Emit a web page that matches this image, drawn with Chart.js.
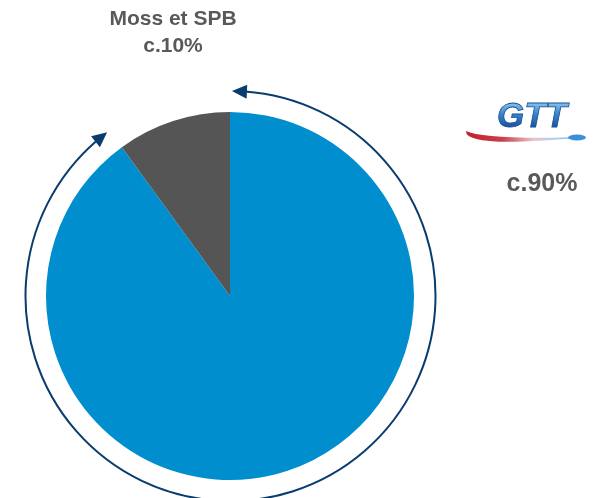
<!DOCTYPE html>
<html>
<head>
<meta charset="utf-8">
<script src="https://cdn.jsdelivr.net/npm/chart.js@4/dist/chart.umd.min.js"></script>
<style>
  html, body { margin: 0; padding: 0; background: #ffffff; }
  #wrap { width: 596px; height: 498px; }
</style>
</head>
<body>
<div id="wrap"><canvas id="c" width="596" height="498"></canvas></div>
<script>
// ---- data ----
const categories = ['GTT', 'Moss et SPB'];
const shareValues = [90, 10];
const shareLabels = ['c.90%', 'c.10%'];
const sliceColors = ['#008ECF', '#555555'];

const textGrey = '#595959';
const arrowColor = '#0B3C6E';

const overlay = {
  id: 'overlay',
  afterDraw(chart) {
    const ctx = chart.ctx;
    const meta = chart.getDatasetMeta(0);
    const big = meta.data[0];
    const cx = big.x + 0.5, cy = big.y;
    const R = big.outerRadius + 21;
    const deg = Math.PI / 180;
    const a0 = big.startAngle + 0.4 * deg;   // top tip
    const a1 = big.endAngle - 1.0 * deg;     // left tip
    const L = 15, W = 7;
    ctx.save();
    ctx.strokeStyle = arrowColor;
    ctx.fillStyle = arrowColor;
    ctx.lineWidth = 2;
    ctx.beginPath();
    ctx.arc(cx, cy, R, a0 + (L - 2) / R, a1 - (L - 2) / R, false);
    ctx.stroke();
    function head(a, dirSign) {
      const tx = cx + R * Math.cos(a), ty = cy + R * Math.sin(a);
      const ab = a - dirSign * L / R;
      const bx = cx + R * Math.cos(ab), by = cy + R * Math.sin(ab);
      let dx = tx - bx, dy = ty - by;
      const n = Math.hypot(dx, dy); dx /= n; dy /= n;
      const px = -dy, py = dx;
      ctx.beginPath();
      ctx.moveTo(tx, ty);
      ctx.lineTo(bx + px * W, by + py * W);
      ctx.lineTo(bx - px * W, by - py * W);
      ctx.closePath();
      ctx.fill();
    }
    head(a0, -1);
    head(a1, 1);

    // labels
    ctx.fillStyle = textGrey;
    ctx.textAlign = 'center';
    ctx.textBaseline = 'alphabetic';
    ctx.font = 'bold 21px "Liberation Sans", Arial, sans-serif';
    ctx.fillText(categories[1], 173, 25);
    ctx.fillText(shareLabels[1], 173, 52);
    ctx.font = 'bold 25px "Liberation Sans", Arial, sans-serif';
    ctx.fillText(shareLabels[0], 542, 191);

    // GTT logo: swoosh
    const sg = ctx.createLinearGradient(466, 0, 588, 0);
    sg.addColorStop(0, '#C0202C');
    sg.addColorStop(0.3, '#C8404A');
    sg.addColorStop(0.55, '#E9C4C8');
    sg.addColorStop(0.75, '#A9D2F0');
    sg.addColorStop(1, '#2A7DCC');
    ctx.fillStyle = sg;
    ctx.beginPath();
    ctx.moveTo(466, 131);
    ctx.quadraticCurveTo(465, 149, 586, 137);
    ctx.quadraticCurveTo(484, 140, 466, 131);
    ctx.closePath();
    ctx.fill();
    ctx.fillStyle = '#3B8FDA';
    ctx.beginPath();
    ctx.ellipse(577, 137.5, 9, 3, 0, 0, Math.PI * 2);
    ctx.fill();

    // GTT text
    const tg = ctx.createLinearGradient(0, 102, 0, 128);
    tg.addColorStop(0, '#8CC8F0');
    tg.addColorStop(0.45, '#3A86D0');
    tg.addColorStop(1, '#15509A');
    ctx.font = 'italic bold 35px "Liberation Sans", Arial, sans-serif';
    ctx.fillStyle = tg;
    ctx.fillText(categories[0], 532, 127);
    ctx.lineWidth = 0.8;
    ctx.strokeStyle = '#1A4F8E';
    ctx.strokeText(categories[0], 532, 127);
    ctx.restore();
  }
};

new Chart(document.getElementById('c'), {
  type: 'pie',
  data: {
    labels: categories,
    datasets: [{
      data: shareValues,
      backgroundColor: sliceColors,
      borderWidth: 0
    }]
  },
  options: {
    responsive: false,
    animation: false,
    layout: { padding: { top: 112, bottom: 18, left: 46, right: 182 } },
    plugins: {
      legend: { display: false },
      tooltip: { enabled: false }
    }
  },
  plugins: [overlay]
});
</script>
</body>
</html>
